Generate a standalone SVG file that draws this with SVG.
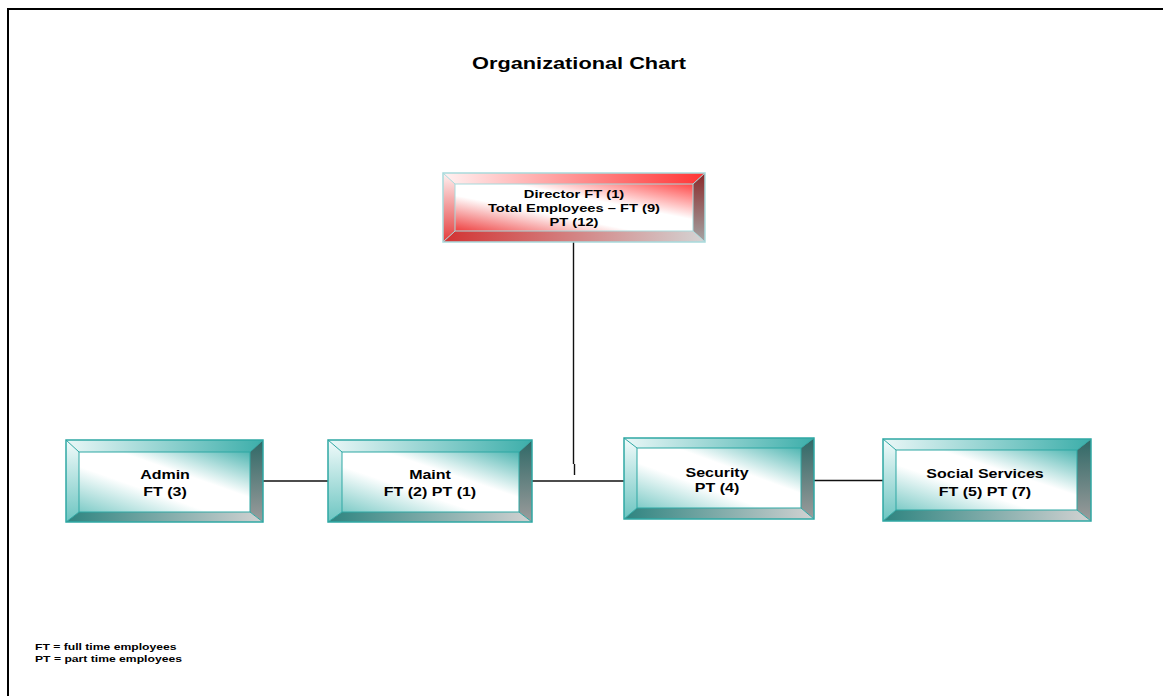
<svg xmlns="http://www.w3.org/2000/svg" width="1163" height="696" viewBox="0 0 1163 696">
  <style>
    .lbl { font-family: "Liberation Sans", Arial, sans-serif; font-weight: bold; fill: #000; text-anchor: middle; }
    .node { font-size: 12.5px; }
    .dir { font-size: 11.5px; }
    .title { font-size: 17px; }
    .note { font-family: "Liberation Sans", Arial, sans-serif; font-weight: bold; font-size: 9.5px; fill: #000; }
    .edge { stroke: #111; stroke-width: 1.4; fill: none; }
    .t-line { stroke: #2FA8A4; fill: none; }
    .r-line { stroke: #A8DADC; fill: none; }
  </style>
  <defs>
    <!-- teal bevel -->
    <linearGradient id="tTop" x1="0" y1="0" x2="1" y2="0"><stop offset="0" stop-color="#EAF7F7"/><stop offset="1" stop-color="#3CAEAA"/></linearGradient>
    <linearGradient id="tLeft" x1="0" y1="0" x2="0" y2="1"><stop offset="0" stop-color="#F2FBFB"/><stop offset="1" stop-color="#6CC5C1"/></linearGradient>
    <linearGradient id="tRight" x1="0" y1="0" x2="0" y2="1"><stop offset="0" stop-color="#2E6866"/><stop offset="1" stop-color="#9C9C9C"/></linearGradient>
    <linearGradient id="tBottom" x1="0" y1="0" x2="1" y2="0"><stop offset="0" stop-color="#2E8480"/><stop offset="1" stop-color="#D2D2D2"/></linearGradient>
    <linearGradient id="tFace" x1="0" y1="1" x2="1" y2="0"><stop offset="0" stop-color="#7ECBC7"/><stop offset="0.38" stop-color="#FFFFFF"/><stop offset="0.62" stop-color="#FFFFFF"/><stop offset="1" stop-color="#50B6B2"/></linearGradient>
    <!-- red bevel -->
    <linearGradient id="rTop" x1="0" y1="0" x2="1" y2="0"><stop offset="0" stop-color="#FFF2F2"/><stop offset="1" stop-color="#FF3434"/></linearGradient>
    <linearGradient id="rLeft" x1="0" y1="0" x2="0" y2="1"><stop offset="0" stop-color="#FFF2F2"/><stop offset="1" stop-color="#E43C3C"/></linearGradient>
    <linearGradient id="rRight" x1="0" y1="0" x2="0" y2="1"><stop offset="0" stop-color="#8A2A2A"/><stop offset="1" stop-color="#A4A4A4"/></linearGradient>
    <linearGradient id="rBottom" x1="0" y1="0" x2="1" y2="0"><stop offset="0" stop-color="#D23232"/><stop offset="1" stop-color="#D4D4D4"/></linearGradient>
    <linearGradient id="rFace" x1="0" y1="1" x2="1" y2="0"><stop offset="0" stop-color="#EE4040"/><stop offset="0.38" stop-color="#FFFFFF"/><stop offset="0.62" stop-color="#FFFFFF"/><stop offset="1" stop-color="#FF4848"/></linearGradient>
  </defs>

  <rect width="1163" height="696" fill="#fff"/>
  <!-- page frame -->
  <path d="M8,696 V9 H1163" stroke="#000" stroke-width="2" fill="none"/>

  <text class="lbl title" transform="translate(579,69) scale(1.28,1)">Organizational Chart</text>

  <g id="connectors">
    <line class="edge" x1="573.5" y1="242" x2="573.5" y2="464"/>
    <line class="edge" x1="574.5" y1="464" x2="574.5" y2="475"/>
    <line class="edge" x1="263" y1="481" x2="328" y2="481"/>
    <line class="edge" x1="532" y1="481" x2="624" y2="481"/>
    <line class="edge" x1="814" y1="480.5" x2="883" y2="480.5"/>
  </g>

  <g id="director">
    <polygon points="443,173 705,173 693,184 455,184" fill="url(#rTop)"/>
    <polygon points="443,173 455,184 455,231 443,242" fill="url(#rLeft)"/>
    <polygon points="705,173 705,242 693,231 693,184" fill="url(#rRight)"/>
    <polygon points="443,242 455,231 693,231 705,242" fill="url(#rBottom)"/>
    <rect x="455" y="184" width="238" height="47" fill="url(#rFace)"/>
    <rect class="r-line" x="443" y="173" width="262" height="69" stroke-width="1.5"/>
    <rect class="r-line" x="455" y="184" width="238" height="47"/>
    <path class="r-line" d="M443,173 L455,184 M705,173 L693,184 M443,242 L455,231 M705,242 L693,231"/>
    <text class="lbl dir" transform="translate(574,198) scale(1.28,1)">Director FT (1)</text>
    <text class="lbl dir" transform="translate(574,212) scale(1.28,1)">Total Employees – FT (9)</text>
    <text class="lbl dir" transform="translate(574,226) scale(1.28,1)">PT (12)</text>
  </g>

  <g id="admin">
    <polygon points="66,440 263,440 250,452 79,452" fill="url(#tTop)"/>
    <polygon points="66,440 79,452 79,512 66,522" fill="url(#tLeft)"/>
    <polygon points="263,440 263,522 250,512 250,452" fill="url(#tRight)"/>
    <polygon points="66,522 79,512 250,512 263,522" fill="url(#tBottom)"/>
    <rect x="79" y="452" width="171" height="60" fill="url(#tFace)"/>
    <rect class="t-line" x="66" y="440" width="197" height="82" stroke-width="1.5"/>
    <rect class="t-line" x="79" y="452" width="171" height="60"/>
    <path class="t-line" d="M66,440 L79,452 M263,440 L250,452 M66,522 L79,512 M263,522 L250,512"/>
    <text class="lbl node" transform="translate(165,478.5) scale(1.28,1)">Admin</text>
    <text class="lbl node" transform="translate(165,496) scale(1.28,1)">FT (3)</text>
  </g>

  <g id="maint">
    <polygon points="328,440 532,440 519,452 342,452" fill="url(#tTop)"/>
    <polygon points="328,440 342,452 342,512 328,522" fill="url(#tLeft)"/>
    <polygon points="532,440 532,522 519,512 519,452" fill="url(#tRight)"/>
    <polygon points="328,522 342,512 519,512 532,522" fill="url(#tBottom)"/>
    <rect x="342" y="452" width="177" height="60" fill="url(#tFace)"/>
    <rect class="t-line" x="328" y="440" width="204" height="82" stroke-width="1.5"/>
    <rect class="t-line" x="342" y="452" width="177" height="60"/>
    <path class="t-line" d="M328,440 L342,452 M532,440 L519,452 M328,522 L342,512 M532,522 L519,512"/>
    <text class="lbl node" transform="translate(430,478.5) scale(1.28,1)">Maint</text>
    <text class="lbl node" transform="translate(430,495.5) scale(1.28,1)">FT (2) PT (1)</text>
  </g>

  <g id="security">
    <polygon points="624,438 814,438 801,448 637,448" fill="url(#tTop)"/>
    <polygon points="624,438 637,448 637,508 624,519" fill="url(#tLeft)"/>
    <polygon points="814,438 814,519 801,508 801,448" fill="url(#tRight)"/>
    <polygon points="624,519 637,508 801,508 814,519" fill="url(#tBottom)"/>
    <rect x="637" y="448" width="164" height="60" fill="url(#tFace)"/>
    <rect class="t-line" x="624" y="438" width="190" height="81" stroke-width="1.5"/>
    <rect class="t-line" x="637" y="448" width="164" height="60"/>
    <path class="t-line" d="M624,438 L637,448 M814,438 L801,448 M624,519 L637,508 M814,519 L801,508"/>
    <text class="lbl node" transform="translate(717,476.5) scale(1.28,1)">Security</text>
    <text class="lbl node" transform="translate(717,491.5) scale(1.28,1)">PT (4)</text>
  </g>

  <g id="social-services">
    <polygon points="883,439 1091,439 1077,450 896,450" fill="url(#tTop)"/>
    <polygon points="883,439 896,450 896,510 883,521" fill="url(#tLeft)"/>
    <polygon points="1091,439 1091,521 1077,510 1077,450" fill="url(#tRight)"/>
    <polygon points="883,521 896,510 1077,510 1091,521" fill="url(#tBottom)"/>
    <rect x="896" y="450" width="181" height="60" fill="url(#tFace)"/>
    <rect class="t-line" x="883" y="439" width="208" height="82" stroke-width="1.5"/>
    <rect class="t-line" x="896" y="450" width="181" height="60"/>
    <path class="t-line" d="M883,439 L896,450 M1091,439 L1077,450 M883,521 L896,510 M1091,521 L1077,510"/>
    <text class="lbl node" transform="translate(985,477.5) scale(1.28,1)">Social Services</text>
    <text class="lbl node" transform="translate(985,496) scale(1.28,1)">FT (5) PT (7)</text>
  </g>

  <!-- legend -->
  <text class="note" transform="translate(35,649.5) scale(1.28,1)">FT = full time employees</text>
  <text class="note" transform="translate(35,661.5) scale(1.28,1)">PT = part time employees</text>
</svg>
